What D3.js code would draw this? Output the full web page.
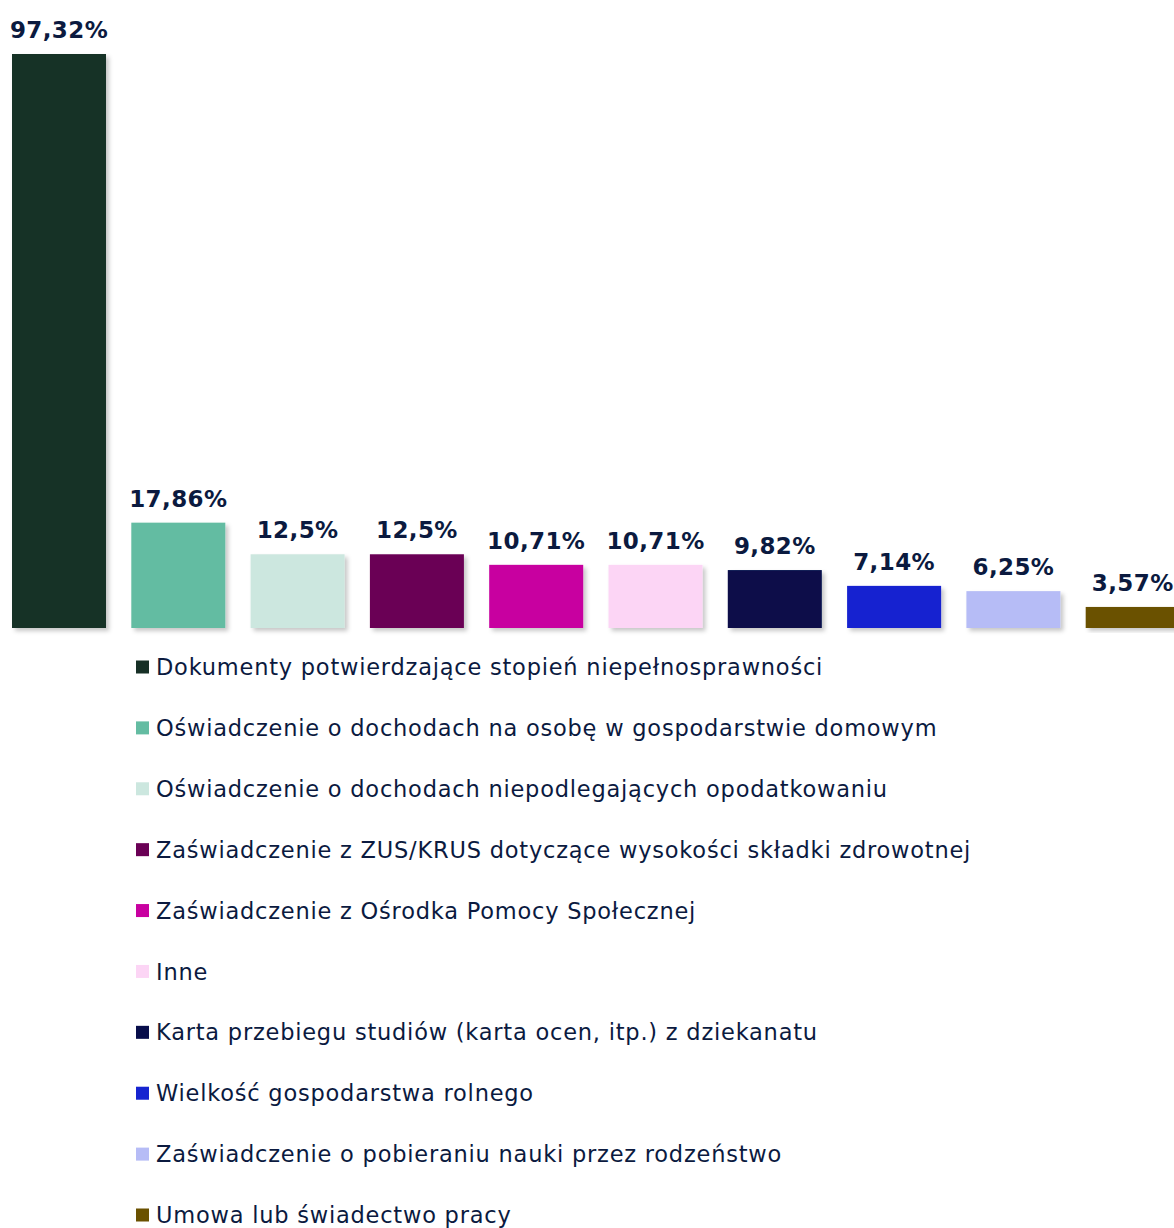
<!DOCTYPE html>
<html lang="pl">
<head>
<meta charset="utf-8">
<script src="https://cdn.jsdelivr.net/npm/d3@7"></script>
<style>
  html, body { margin: 0; padding: 0; background: #fff; }
  svg { display: block; }
</style>
</head>
<body>
<div id="chart"></div>
<script>
// Document categories, their shares (%) and colours
const categories = [
  "Dokumenty potwierdzające stopień niepełnosprawności",
  "Oświadczenie o dochodach na osobę w gospodarstwie domowym",
  "Oświadczenie o dochodach niepodlegających opodatkowaniu",
  "Zaświadczenie z ZUS/KRUS dotyczące wysokości składki zdrowotnej",
  "Zaświadczenie z Ośrodka Pomocy Społecznej",
  "Inne",
  "Karta przebiegu studiów (karta ocen, itp.) z dziekanatu",
  "Wielkość gospodarstwa rolnego",
  "Zaświadczenie o pobieraniu nauki przez rodzeństwo",
  "Umowa lub świadectwo pracy"
];
const values = [97.32, 17.86, 12.5, 12.5, 10.71, 10.71, 9.82, 7.14, 6.25, 3.57];
const valueLabels = ["97,32%", "17,86%", "12,5%", "12,5%", "10,71%", "10,71%", "9,82%", "7,14%", "6,25%", "3,57%"];
const colors = ["#173026", "#64bca2", "#cce7df", "#6a0055", "#c800a0",
                "#fcd5f5", "#070d4a", "#1624d0", "#b6bcf6", "#6a5100"];

const W = 1174, H = 1228;
const textColor = "#0b1a3f";
const font = "Verdana, 'DejaVu Sans', sans-serif";

const svg = d3.select("#chart").append("svg")
  .attr("width", W).attr("height", H);

// soft shadow under each bar
const defs = svg.append("defs");
const f = defs.append("filter").attr("id", "barShadow")
  .attr("x", "-10%").attr("y", "-10%").attr("width", "130%").attr("height", "130%");
f.append("feDropShadow").attr("dx", 3).attr("dy", 3).attr("stdDeviation", 2)
  .attr("flood-color", "#000").attr("flood-opacity", 0.22);

const baseline = 628;
const x = d3.scaleBand().domain(d3.range(categories.length))
  .range([12, 1179.7]).paddingInner(0.212).paddingOuter(0);
const y = d3.scaleLinear().domain([0, 97.32]).range([baseline, 54]);

const bars = svg.append("g");
bars.selectAll("rect").data(values).join("rect")
  .attr("x", (d, i) => x(i))
  .attr("y", d => y(d))
  .attr("width", x.bandwidth())
  .attr("height", d => baseline - y(d))
  .attr("fill", (d, i) => colors[i])
  .attr("filter", "url(#barShadow)");

svg.append("g").selectAll("text").data(values).join("text")
  .attr("x", (d, i) => x(i) + x.bandwidth() / 2)
  .attr("y", d => y(d) - 16)
  .attr("text-anchor", "middle")
  .attr("font-family", font)
  .attr("font-weight", "bold")
  .attr("font-size", 23)
  .attr("letter-spacing", 0.4)
  .attr("fill", textColor)
  .text((d, i) => valueLabels[i]);

// legend
const legendY = d3.scalePoint().domain(d3.range(categories.length)).range([667, 1215]);
const lg = svg.append("g");
const rows = lg.selectAll("g").data(categories).join("g")
  .attr("transform", (d, i) => `translate(136,${legendY(i)})`);
rows.append("rect")
  .attr("x", 0).attr("y", -6.5).attr("width", 13).attr("height", 13)
  .attr("fill", (d, i) => colors[i]);
rows.append("text")
  .attr("x", 20).attr("y", 0).attr("dy", "0.36em")
  .attr("font-family", font)
  .attr("font-size", 22.5)
  .attr("letter-spacing", 0.78)
  .attr("fill", textColor)
  .text(d => d);
</script>
</body>
</html>
